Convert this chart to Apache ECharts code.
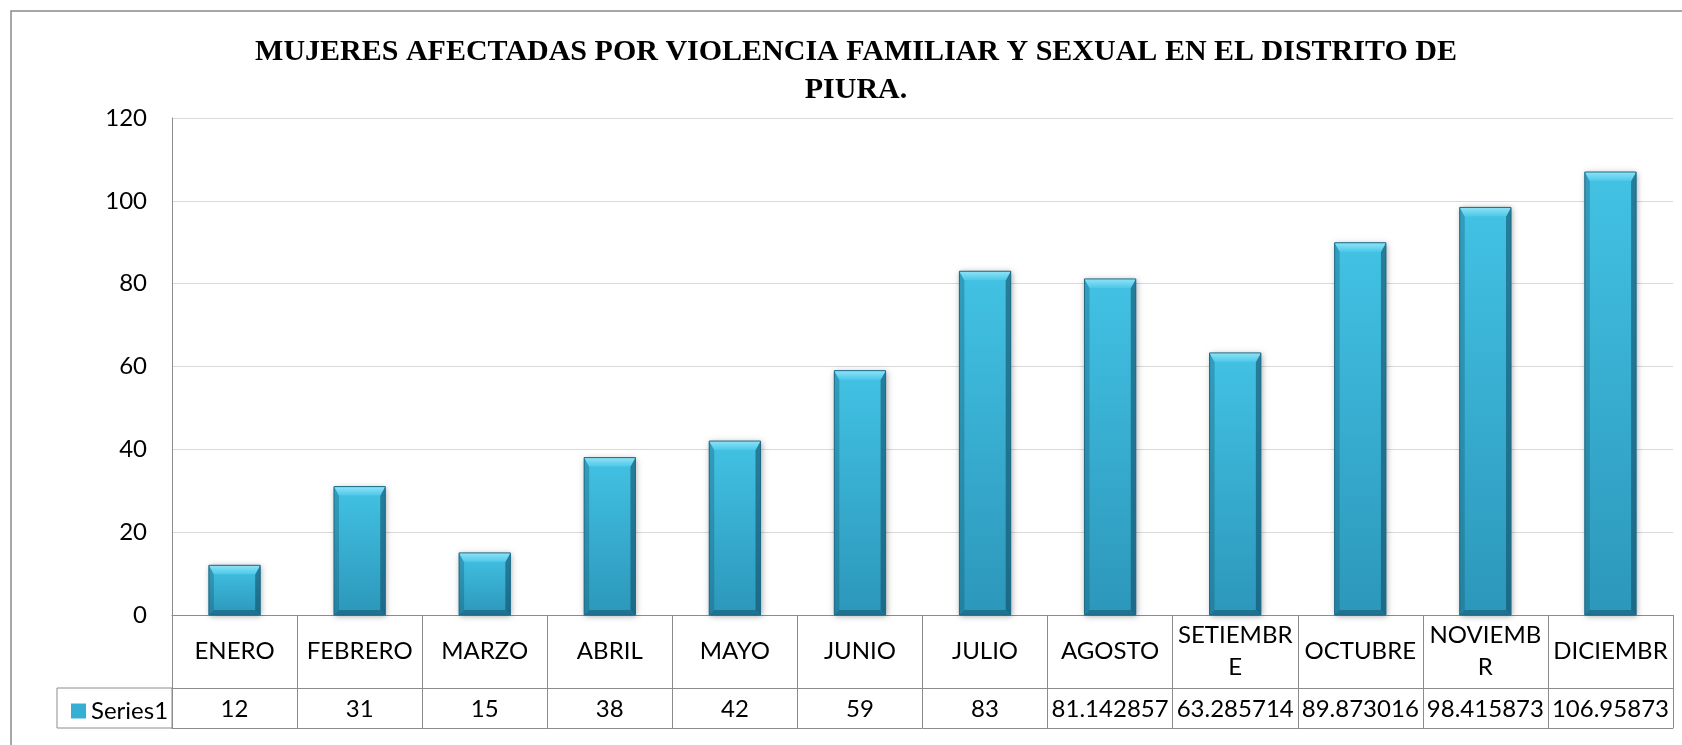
<!DOCTYPE html>
<html>
<head>
<meta charset="utf-8">
<title>Mujeres afectadas por violencia familiar y sexual - Piura</title>
<script src="https://cdn.jsdelivr.net/npm/echarts@6/dist/echarts.min.js"></script>
<style>
  html, body { margin: 0; padding: 0; background: #fff; }
  #chart { width: 1682px; height: 745px; }
</style>
</head>
<body>
<div id="chart"></div>
<script>
// month labels as they appear in the data table (Excel wrapped / cut them)
const months = ['ENERO', 'FEBRERO', 'MARZO', 'ABRIL', 'MAYO', 'JUNIO', 'JULIO',
  'AGOSTO', 'SETIEMBR\nE', 'OCTUBRE', 'NOVIEMB\nR', 'DICIEMBR'];
const seriesName = 'Series1';
const values = [12, 31, 15, 38, 42, 59, 83, 81.142857, 63.285714, 89.873016, 98.415873, 106.95873];
const yTicks = { min: 0, max: 120, step: 20 };
const titleText = 'MUJERES AFECTADAS POR VIOLENCIA FAMILIAR Y SEXUAL EN EL DISTRITO DE\nPIURA.';

const lineGray = '#8c8c8c';
const font = 'Lato';
const fontSize = 24;

const chart = echarts.init(document.getElementById('chart'), null, { renderer: 'canvas' });

// bevelled bar like the Excel preset
function renderBar(params, api) {
  const base = api.coord([api.value(0), 0]);
  const top = api.coord([api.value(0), api.value(1)]);
  const bw = api.size([1, 0])[0] * 0.41;
  const x = top[0] - bw / 2;
  const y = top[1];
  const h = base[1] - top[1];
  const b = Math.min(9, h / 2);
  const s = Math.min(5, bw / 6);
  return {
    type: 'group',
    children: [
      { // soft shadow
        type: 'rect',
        shape: { x: x, y: y, width: bw, height: h },
        style: { fill: '#2b94b6', shadowBlur: 6, shadowColor: 'rgba(0,0,0,0.35)', shadowOffsetX: 1, shadowOffsetY: 1 }
      },
      {
        type: 'rect',
        shape: { x: x, y: y, width: bw, height: h },
        style: {
          fill: new echarts.graphic.LinearGradient(0, 0, 0, 1, [
            { offset: 0, color: '#42c2e4' },
            { offset: 1, color: '#2c97ba' }
          ])
        }
      },
      { // left side
        type: 'polygon',
        shape: { points: [[x, y], [x + s, y + b], [x + s, y + h - s], [x, y + h]] },
        style: { fill: 'rgba(20,90,115,0.35)' }
      },
      { // right side
        type: 'polygon',
        shape: { points: [[x + bw, y], [x + bw - s, y + b], [x + bw - s, y + h - s], [x + bw, y + h]] },
        style: { fill: 'rgba(15,70,95,0.55)' }
      },
      { // bottom
        type: 'polygon',
        shape: { points: [[x, y + h], [x + s, y + h - s], [x + bw - s, y + h - s], [x + bw, y + h]] },
        style: { fill: 'rgba(15,70,95,0.45)' }
      },
      { // top bevel
        type: 'polygon',
        shape: { points: [[x, y], [x + bw, y], [x + bw - s, y + b], [x + s, y + b]] },
        style: {
          fill: new echarts.graphic.LinearGradient(0, 0, 0, 1, [
            { offset: 0, color: '#8fe3f7' },
            { offset: 1, color: '#4cc8e8' }
          ])
        }
      },
      {
        type: 'rect',
        shape: { x: x, y: y, width: bw, height: h },
        style: { fill: 'none', stroke: '#1d6a86', lineWidth: 1 }
      }
    ]
  };
}

const option = {
  animation: false,
  backgroundColor: '#fff',
  title: {
    text: titleText,
    left: 851,
    top: 28,
    textAlign: 'center',
    textStyle: {
      fontFamily: 'Liberation Serif',
      fontWeight: 'bold',
      fontSize: 30,
      lineHeight: 38,
      color: '#000'
    }
  },
  legend: {
    data: [seriesName],
    left: 66,
    top: 694,
    icon: 'rect',
    itemWidth: 15,
    itemHeight: 15,
    textStyle: { fontFamily: font, fontSize: fontSize, color: '#000', lineHeight: 20 }
  },
  grid: { left: 172, right: 9, top: 118, bottom: 130, containLabel: false },
  xAxis: [
    {
      type: 'category',
      data: months,
      position: 'bottom',
      boundaryGap: true,
      axisLine: { show: true, lineStyle: { color: lineGray, width: 1 } },
      axisTick: { show: true, interval: 0, length: 113, lineStyle: { color: lineGray } },
      axisLabel: {
        interval: 0, margin: 36, verticalAlign: 'middle', align: 'center',
        fontFamily: font, fontSize: fontSize, lineHeight: 32, color: '#000'
      }
    },
    {
      type: 'category',
      data: values.map(String),
      position: 'bottom',
      offset: 73,
      boundaryGap: true,
      axisLine: { show: true, lineStyle: { color: lineGray, width: 1 } },
      axisTick: { show: false },
      axisLabel: {
        interval: 0, margin: 21, verticalAlign: 'middle', align: 'center',
        fontFamily: font, fontSize: fontSize, color: '#000'
      }
    },
    {
      type: 'category',
      data: months,
      position: 'bottom',
      offset: 113,
      axisLine: { show: true, lineStyle: { color: lineGray, width: 1 } },
      axisTick: { show: false },
      axisLabel: { show: false }
    }
  ],
  yAxis: {
    type: 'value',
    min: yTicks.min,
    max: yTicks.max,
    interval: yTicks.step,
    axisLine: { show: true, lineStyle: { color: lineGray } },
    axisTick: { show: false },
    axisLabel: { margin: 25, fontFamily: font, fontSize: fontSize, color: '#000' },
    splitLine: { lineStyle: { color: '#d9d9d9', width: 1 } }
  },
  graphic: [
    { // chart area border
      type: 'rect',
      shape: { x: 11, y: 11, width: 1700, height: 800 },
      style: { fill: 'none', stroke: '#8a8a8a', lineWidth: 1.5 },
      silent: true
    },
    { // legend cell of the data table
      type: 'rect',
      shape: { x: 57, y: 688, width: 115, height: 40 },
      style: { fill: 'none', stroke: lineGray, lineWidth: 1 },
      silent: true
    }
  ],
  series: [
    {
      name: seriesName,
      type: 'custom',
      xAxisIndex: 0,
      renderItem: renderBar,
      itemStyle: { color: '#35b0d4' },
      encode: { x: 0, y: 1 },
      data: values.map((v, i) => [i, v])
    }
  ]
};

chart.setOption(option);
</script>
</body>
</html>
